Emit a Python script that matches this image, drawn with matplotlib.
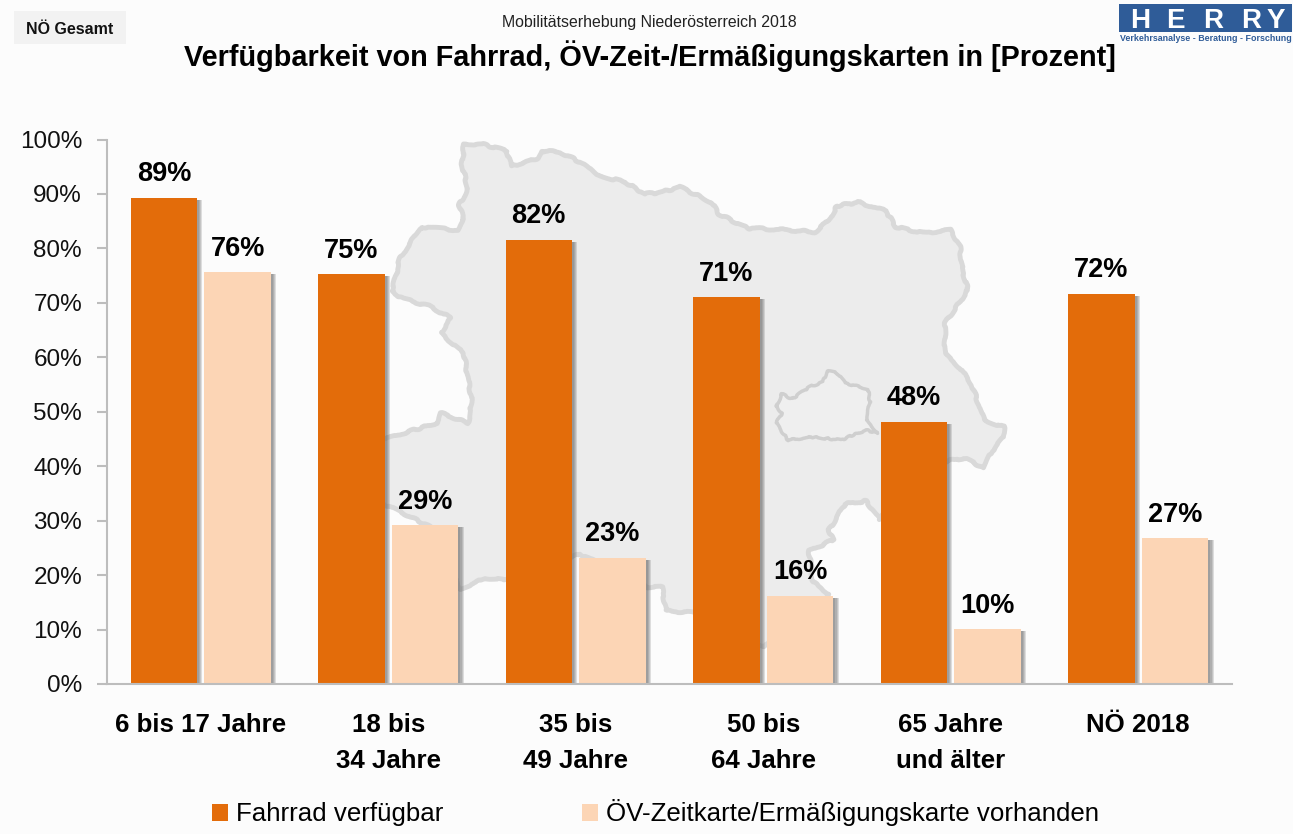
import matplotlib
matplotlib.use("Agg")
import matplotlib.pyplot as plt
import matplotlib.patheffects as pe
from matplotlib.patches import Polygon, Rectangle

W, H = 1293, 834
plt.rcParams["font.family"] = ["Liberation Sans", "DejaVu Sans"]

categories = ["6 bis 17 Jahre", "18 bis\n34 Jahre", "35 bis\n49 Jahre",
              "50 bis\n64 Jahre", "65 Jahre\nund älter", "NÖ 2018"]
fahrrad = [89.3, 75.3, 81.6, 71.0, 48.2, 71.7]
zeitkarte = [75.6, 29.2, 23.2, 16.2, 10.1, 26.8]
yticks = [0, 10, 20, 30, 40, 50, 60, 70, 80, 90, 100]

# background map outlines, in image pixels
noe_outline = [
    (464, 144), (482, 144), (507, 151), (511, 166), (537, 159), (541, 151), (560, 152),
    (584, 164), (596, 175), (625, 182), (645, 194), (662, 192), (680, 187), (711, 202),
    (719, 214), (747, 228), (788, 230), (815, 232), (829, 220), (837, 206), (858, 202),
    (886, 211), (896, 227), (923, 233), (951, 230), (960, 247), (962, 268), (968, 290),
    (945, 323), (945, 354), (960, 368), (972, 385), (984, 420), (1004, 427), (1004, 437),
    (992, 451), (984, 468), (964, 458), (947, 461), (900, 480), (880, 520), (866, 501),
    (845, 504), (829, 530), (833, 540), (809, 551), (813, 582), (829, 594), (800, 620),
    (764, 647), (698, 613), (666, 611), (662, 587), (647, 587), (580, 554), (540, 570),
    (504, 580), (486, 578), (460, 589), (430, 527), (409, 516), (375, 500), (370, 440),
    (392, 437), (404, 433), (437, 423), (441, 413), (468, 423), (472, 402), (468, 378),
    (464, 354), (441, 333), (451, 318), (429, 306), (404, 299), (392, 292), (400, 258),
    (421, 227), (458, 230), (464, 220), (459, 205), (468, 189), (462, 164),
]
wien_outline = [
    (776, 406), (782, 394), (792, 399), (809, 387), (823, 382), (827, 371), (837, 373),
    (845, 383), (868, 389), (870, 402), (866, 420), (878, 433), (866, 430), (841, 440),
    (813, 437), (788, 440), (776, 423), (782, 413),
]

fig = plt.figure(figsize=(W / 100, H / 100), dpi=100, facecolor="#fcfcfc")

# overlay in pixel coordinates for map, logo and header
bg = fig.add_axes([0, 0, 1, 1], zorder=0)
bg.set_xlim(0, W)
bg.set_ylim(H, 0)
bg.axis("off")
noe = Polygon(noe_outline, closed=True, fc="#ececec", ec="#d9d9d9", lw=3.5, joinstyle="round")
noe.set_sketch_params(scale=1.0, length=40, randomness=8)
bg.add_patch(noe)
wien = Polygon(wien_outline, closed=True, fc="#efefef", ec="#cfcfcf", lw=2.5, joinstyle="round")
wien.set_sketch_params(scale=0.8, length=25, randomness=8)
bg.add_patch(wien)

bg.add_patch(Rectangle((14, 11), 112, 33, fc="#f2f2f2", ec="none"))
bg.text(70, 29, "NÖ Gesamt", ha="center", va="center", fontsize=11.5, fontweight="bold",
        color="#111111")
bg.text(649.5, 22, "Mobilitätserhebung Niederösterreich 2018", ha="center", va="center",
        fontsize=11.4, color="#222222")
bg.text(650, 56, "Verfügbarkeit von Fahrrad, ÖV-Zeit-/Ermäßigungskarten in [Prozent]",
        ha="center", va="center", fontsize=20.8, fontweight="bold", color="black")

# logo
bg.add_patch(Rectangle((1119, 4), 173, 28, fc="#2f5c98", ec="none"))
for xpos, letter in zip([1140, 1175, 1213, 1251, 1276], "HERRY"):
    bg.text(xpos, 18, letter, ha="center", va="center_baseline", fontsize=20, fontweight="bold",
            color="white")
bg.text(1206, 38, "Verkehrsanalyse - Beratung - Forschung", ha="center", va="center",
        fontsize=6.4, fontweight="bold", color="#2f5c98")

# main chart
x0, x1 = 107, 1232
y0, y1 = 684, 139.5
ax = fig.add_axes([x0 / W, 1 - y0 / H, (x1 - x0) / W, (y0 - y1) / H], zorder=1)
ax.patch.set_alpha(0)

x = list(range(len(categories)))
width = 0.355
offset = 0.197
# stacked soft shadow, far to near
shadow = [pe.SimplePatchShadow(offset=(dx, -1.5), shadow_rgbFace="#555555", alpha=0.18)
          for dx in (3.8, 3.0, 2.2, 1.4)] + [pe.Normal()]
bars1 = ax.bar([i - offset for i in x], fahrrad, width, color="#e36c0a", label="Fahrrad verfügbar")
bars2 = ax.bar([i + offset for i in x], zeitkarte, width, color="#fcd5b5",
               label="ÖV-Zeitkarte/Ermäßigungskarte vorhanden")
for b in list(bars1) + list(bars2):
    b.set_path_effects(shadow)
for bars in (bars1, bars2):
    ax.bar_label(bars, fmt="%.0f%%", padding=7.5, fontsize=19.5, fontweight="bold", color="black")

ax.set_xlim(-0.5, len(categories) - 0.5)
ax.set_ylim(0, 100)
ax.set_yticks(yticks)
ax.set_yticklabels([f"{v}%" for v in yticks], fontsize=17.5, color="#111111")
ax.set_xticks(x)
ax.set_xticklabels(categories, fontsize=18.6, fontweight="bold", color="black", linespacing=1.6)
ax.tick_params(axis="y", length=7, width=1.5, color="#bdbdbd", pad=11)
ax.tick_params(axis="x", length=0, pad=21)
for side in ("top", "right"):
    ax.spines[side].set_visible(False)
for side in ("left", "bottom"):
    ax.spines[side].set_color("#bdbdbd")
    ax.spines[side].set_linewidth(1.5)

leg = fig.legend(handles=[bars1, bars2], loc="center left", bbox_to_anchor=(212 / W, 1 - 813 / H),
                 ncol=2, frameon=False, fontsize=18.6, handlelength=0.62, handleheight=0.62,
                 handletextpad=0.31, columnspacing=5.35, borderpad=0, borderaxespad=0)
for patch in leg.get_patches():
    patch.set_path_effects([])

fig.savefig("out.png", dpi=100, facecolor=fig.get_facecolor())
